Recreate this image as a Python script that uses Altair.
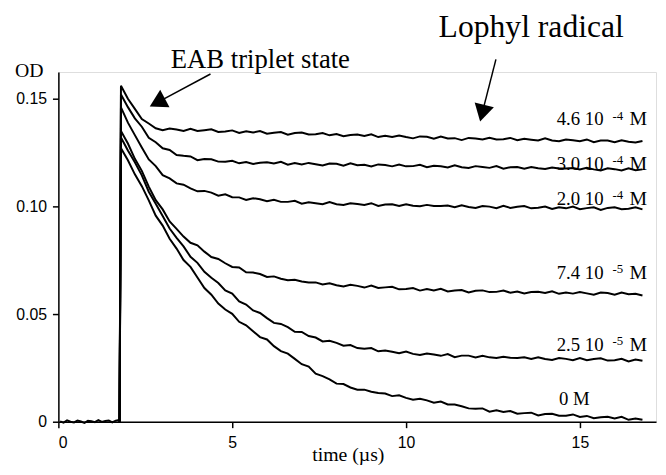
import altair as alt
import pandas as pd

# ---------------- data ----------------
T = [1.8, 2.0, 2.2, 2.4, 2.6, 2.8, 3.0, 3.2, 3.4, 3.6,
     3.8, 4.0, 4.2, 4.4, 4.6, 4.8, 5.0, 5.2, 5.4, 5.6,
     5.8, 6.0, 6.2, 6.4, 6.6, 6.8, 7.0, 7.2, 7.4, 7.6,
     7.8, 8.0, 8.2, 8.4, 8.6, 8.8, 9.0, 9.2, 9.4, 9.6,
     9.8, 10.0, 10.2, 10.4, 10.6, 10.8, 11.0, 11.2, 11.4, 11.6,
     11.8, 12.0, 12.2, 12.4, 12.6, 12.8, 13.0, 13.2, 13.4, 13.6,
     13.8, 14.0, 14.2, 14.4, 14.6, 14.8, 15.0, 15.2, 15.4, 15.6,
     15.8, 16.0, 16.2, 16.4, 16.6, 16.8]

PULSE_T = 1.76

BASE_T = [0.05, 0.15, 0.25, 0.35, 0.45, 0.55, 0.65, 0.75, 0.85, 0.95,
          1.05, 1.15, 1.25, 1.35, 1.45, 1.55, 1.65, 1.75]
BASE_OD = [0.0002, -0.0004, 0.0006, 0.0000, -0.0003, 0.0005, 0.0001, -0.0005, 0.0004, 0.0002,
           -0.0002, 0.0007, -0.0001, 0.0003, 0.0006, -0.0003, 0.0005, 0.0008]

OD_46e4 = [
    0.1560, 0.1500, 0.1453, 0.1406, 0.1385, 0.1363, 0.1354, 0.1362, 0.1357, 0.1350,
    0.1360, 0.1350, 0.1354, 0.1358, 0.1346, 0.1348, 0.1353, 0.1341, 0.1349, 0.1343,
    0.1350, 0.1338, 0.1342, 0.1345, 0.1333, 0.1341, 0.1343, 0.1334, 0.1335, 0.1341,
    0.1330, 0.1336, 0.1326, 0.1332, 0.1334, 0.1327, 0.1335, 0.1322, 0.1328, 0.1322,
    0.1329, 0.1322, 0.1316, 0.1325, 0.1323, 0.1314, 0.1324, 0.1315, 0.1317, 0.1308,
    0.1318, 0.1315, 0.1311, 0.1319, 0.1311, 0.1312, 0.1318, 0.1307, 0.1314, 0.1310,
    0.1306, 0.1316, 0.1306, 0.1303, 0.1311, 0.1307, 0.1303, 0.1311, 0.1298, 0.1306,
    0.1306, 0.1298, 0.1307, 0.1300, 0.1297, 0.1304]

OD_30e4 = [
    0.1520, 0.1461, 0.1409, 0.1370, 0.1319, 0.1298, 0.1270, 0.1262, 0.1239, 0.1235,
    0.1232, 0.1215, 0.1220, 0.1219, 0.1208, 0.1207, 0.1212, 0.1200, 0.1206, 0.1197,
    0.1203, 0.1205, 0.1199, 0.1207, 0.1194, 0.1201, 0.1195, 0.1202, 0.1196, 0.1190,
    0.1199, 0.1198, 0.1189, 0.1200, 0.1191, 0.1193, 0.1185, 0.1195, 0.1192, 0.1186,
    0.1194, 0.1186, 0.1187, 0.1193, 0.1182, 0.1189, 0.1186, 0.1181, 0.1191, 0.1182,
    0.1178, 0.1187, 0.1183, 0.1179, 0.1187, 0.1175, 0.1182, 0.1183, 0.1175, 0.1183,
    0.1177, 0.1174, 0.1181, 0.1176, 0.1176, 0.1178, 0.1171, 0.1179, 0.1172, 0.1167,
    0.1177, 0.1173, 0.1167, 0.1177, 0.1168, 0.1172]

OD_20e4 = [
    0.1460, 0.1389, 0.1331, 0.1274, 0.1218, 0.1187, 0.1145, 0.1130, 0.1107, 0.1101,
    0.1084, 0.1070, 0.1072, 0.1064, 0.1050, 0.1056, 0.1043, 0.1042, 0.1030, 0.1038,
    0.1033, 0.1024, 0.1031, 0.1021, 0.1021, 0.1026, 0.1013, 0.1019, 0.1015, 0.1010,
    0.1020, 0.1010, 0.1007, 0.1015, 0.1011, 0.1007, 0.1015, 0.1002, 0.1009, 0.1010,
    0.1002, 0.1010, 0.1003, 0.1001, 0.1007, 0.1002, 0.1002, 0.1004, 0.0996, 0.1005,
    0.0997, 0.0993, 0.1002, 0.0999, 0.0992, 0.1003, 0.0993, 0.0998, 0.1002, 0.0991,
    0.0994, 0.0999, 0.0988, 0.0996, 0.0991, 0.0999, 0.0987, 0.0992, 0.0996, 0.0984,
    0.0993, 0.0996, 0.0987, 0.0989, 0.0996, 0.0986]

OD_74e5 = [
    0.1350, 0.1292, 0.1221, 0.1165, 0.1092, 0.1029, 0.0986, 0.0930, 0.0896, 0.0860,
    0.0831, 0.0819, 0.0790, 0.0765, 0.0756, 0.0736, 0.0719, 0.0716, 0.0694, 0.0693,
    0.0686, 0.0672, 0.0675, 0.0664, 0.0657, 0.0659, 0.0651, 0.0647, 0.0647, 0.0637,
    0.0643, 0.0634, 0.0628, 0.0636, 0.0631, 0.0623, 0.0632, 0.0621, 0.0624, 0.0627,
    0.0615, 0.0616, 0.0621, 0.0609, 0.0616, 0.0610, 0.0617, 0.0605, 0.0609, 0.0612,
    0.0600, 0.0608, 0.0610, 0.0602, 0.0603, 0.0609, 0.0599, 0.0605, 0.0596, 0.0602,
    0.0604, 0.0598, 0.0606, 0.0594, 0.0600, 0.0595, 0.0602, 0.0596, 0.0590, 0.0600,
    0.0598, 0.0590, 0.0600, 0.0592, 0.0594, 0.0586]

OD_25e5 = [
    0.1320, 0.1260, 0.1205, 0.1144, 0.1068, 0.1012, 0.0955, 0.0897, 0.0854, 0.0814,
    0.0766, 0.0738, 0.0696, 0.0669, 0.0644, 0.0610, 0.0595, 0.0559, 0.0544, 0.0517,
    0.0505, 0.0481, 0.0459, 0.0454, 0.0439, 0.0418, 0.0417, 0.0398, 0.0391, 0.0373,
    0.0376, 0.0366, 0.0353, 0.0356, 0.0342, 0.0339, 0.0342, 0.0327, 0.0331, 0.0325,
    0.0318, 0.0326, 0.0315, 0.0310, 0.0317, 0.0312, 0.0306, 0.0314, 0.0300, 0.0307,
    0.0307, 0.0298, 0.0306, 0.0299, 0.0296, 0.0302, 0.0297, 0.0296, 0.0299, 0.0291,
    0.0299, 0.0291, 0.0287, 0.0296, 0.0292, 0.0286, 0.0296, 0.0286, 0.0291, 0.0295,
    0.0284, 0.0286, 0.0292, 0.0280, 0.0289, 0.0283]

OD_0 = [
    0.1270, 0.1214, 0.1149, 0.1094, 0.1028, 0.0957, 0.0911, 0.0850, 0.0804, 0.0751,
    0.0719, 0.0670, 0.0621, 0.0590, 0.0549, 0.0521, 0.0501, 0.0464, 0.0448, 0.0420,
    0.0393, 0.0382, 0.0351, 0.0328, 0.0316, 0.0292, 0.0267, 0.0256, 0.0223, 0.0212,
    0.0197, 0.0177, 0.0175, 0.0159, 0.0149, 0.0149, 0.0139, 0.0133, 0.0131, 0.0119,
    0.0123, 0.0111, 0.0102, 0.0107, 0.0099, 0.0088, 0.0094, 0.0080, 0.0080, 0.0072,
    0.0062, 0.0060, 0.0062, 0.0047, 0.0053, 0.0045, 0.0050, 0.0037, 0.0040, 0.0042,
    0.0029, 0.0036, 0.0037, 0.0028, 0.0028, 0.0034, 0.0022, 0.0027, 0.0016, 0.0021,
    0.0023, 0.0015, 0.0023, 0.0009, 0.0015, 0.0009]

SERIES = {
    "4.6e-4": OD_46e4,
    "3.0e-4": OD_30e4,
    "2.0e-4": OD_20e4,
    "7.4e-5": OD_74e5,
    "2.5e-5": OD_25e5,
    "0": OD_0,
}

# concentration labels (right edge x, baseline y)
LAB_MAIN = ["4.6 10", "3.0 10", "2.0 10", "7.4 10", "2.5 10"]
LAB_SUP = ["-4", "-4", "-4", "-5", "-5"]
LAB_Y = [0.1376, 0.1170, 0.1005, 0.0661, 0.0330]
LAB_X = 16.93
ZERO_LABEL = "0 M"
ZERO_X = 15.28
ZERO_Y = 0.0078

# annotations
NOTE_TEXT = ["EAB triplet state", "Lophyl radical"]
NOTE_X = [5.81, 13.6]
NOTE_Y = [0.1642, 0.1789]
NOTE_SIZE = [27, 32]

ARROW_X = [4.375, 12.585]
ARROW_Y = [0.1615, 0.1683]
HEAD_X = [2.917, 12.21]
HEAD_Y = [0.1489, 0.1446]
HEAD_ANGLE = [242, 194]

X_MAX = 17.19
Y_MAX = 0.1624

# ---------------- build tables ----------------
rows = []
k = 0
for t, v in zip(BASE_T, BASE_OD):
    rows.append({"t": t, "od": v, "s": "base", "i": k}); k += 1
for name, vals in SERIES.items():
    rows.append({"t": PULSE_T, "od": 0.0, "s": name, "i": k}); k += 1
    for t, v in zip(T, vals):
        rows.append({"t": t, "od": v, "s": name, "i": k}); k += 1
traces = pd.DataFrame(rows)

labels = pd.DataFrame({"x": [LAB_X] * len(LAB_MAIN), "y": LAB_Y,
                       "main": LAB_MAIN, "sup": LAB_SUP, "m": ["M"] * len(LAB_MAIN)})
zero = pd.DataFrame({"x": [ZERO_X], "y": [ZERO_Y], "text": [ZERO_LABEL]})
notes = pd.DataFrame({"x": NOTE_X, "y": NOTE_Y, "text": NOTE_TEXT, "fs": NOTE_SIZE})
arrows = pd.DataFrame({"x": ARROW_X, "y": ARROW_Y, "hx": HEAD_X, "hy": HEAD_Y, "ang": HEAD_ANGLE})

xs = alt.Scale(domain=[0, X_MAX], nice=False, zero=False)
ys = alt.Scale(domain=[0, Y_MAX], nice=False, zero=False)

SERIF = "Liberation Serif"
SANS = "Liberation Sans"

x_axis = alt.Axis(values=[0, 5, 10, 15], format="d", grid=False,
                  labelFont=SANS, labelFontSize=16, labelColor="black",
                  labelPadding=7, tickSize=6, tickColor="black", tickWidth=1.5,
                  domainColor="black", domainWidth=1.5,
                  title="time (µs)", titleFont=SERIF, titleFontSize=20,
                  titleFontWeight="normal", titleColor="black",
                  titleX=293, titleY=39, titleAlign="center", titleBaseline="alphabetic")
y_axis = alt.Axis(values=[0, 0.05, 0.10, 0.15], grid=False,
                  labelExpr="datum.value == 0 ? '0' : format(datum.value, '.2f')",
                  labelFont=SANS, labelFontSize=16, labelColor="black",
                  labelPadding=6, tickSize=6, tickColor="black", tickWidth=1.5,
                  domainColor="black", domainWidth=1.5,
                  title="OD", titleFont=SERIF, titleFontSize=20, titleFontWeight="normal",
                  titleColor="black", titleAngle=0, titleX=-30, titleY=5,
                  titleAlign="center", titleBaseline="alphabetic")

lines = alt.Chart(traces).mark_line(color="black", strokeWidth=2.0).encode(
    x=alt.X("t:Q", scale=xs, axis=x_axis),
    y=alt.Y("od:Q", scale=ys, axis=y_axis),
    detail="s:N",
    order="i:Q",
)

lab_main = alt.Chart(labels).mark_text(font=SERIF, fontSize=19, align="right",
                                       baseline="alphabetic", dx=-44, color="black").encode(
    x=alt.X("x:Q", scale=xs), y=alt.Y("y:Q", scale=ys), text="main:N")
lab_sup = alt.Chart(labels).mark_text(font=SERIF, fontSize=13, align="right",
                                      baseline="alphabetic", dx=-24, dy=-6, color="black").encode(
    x=alt.X("x:Q", scale=xs), y=alt.Y("y:Q", scale=ys), text="sup:N")
lab_m = alt.Chart(labels).mark_text(font=SERIF, fontSize=20, align="right",
                                    baseline="alphabetic", color="black").encode(
    x=alt.X("x:Q", scale=xs), y=alt.Y("y:Q", scale=ys), text="m:N")
lab_zero = alt.Chart(zero).mark_text(font=SERIF, fontSize=19, align="right",
                                     baseline="alphabetic", color="black").encode(
    x=alt.X("x:Q", scale=xs), y=alt.Y("y:Q", scale=ys), text="text:N")

note_text = alt.Chart(notes).mark_text(font=SERIF, align="center", baseline="alphabetic",
                                       color="black").encode(
    x=alt.X("x:Q", scale=xs), y=alt.Y("y:Q", scale=ys), text="text:N",
    size=alt.Size("fs:Q", scale=None, legend=None))

arrow_line = alt.Chart(arrows).mark_rule(color="black", strokeWidth=1.5).encode(
    x=alt.X("x:Q", scale=xs), y=alt.Y("y:Q", scale=ys), x2="hx:Q", y2="hy:Q")
arrow_head = alt.Chart(arrows).mark_point(shape="M0,-1.15L1,0.58L-1,0.58Z", filled=True,
                                          color="black", opacity=1, size=400).encode(
    x=alt.X("hx:Q", scale=xs), y=alt.Y("hy:Q", scale=ys),
    angle=alt.Angle("ang:Q", scale=None))

chart = alt.layer(lines, lab_main, lab_sup, lab_m, lab_zero, note_text, arrow_line, arrow_head).properties(
    width=605, height=354,
    autosize=alt.AutoSizeParams(type="none"),
    padding={"left": 51, "top": 62, "right": 2, "bottom": 43},
).configure_view(stroke=None).configure(background="white")

chart.save("out.html", embed_options={"renderer": "svg", "actions": False})
